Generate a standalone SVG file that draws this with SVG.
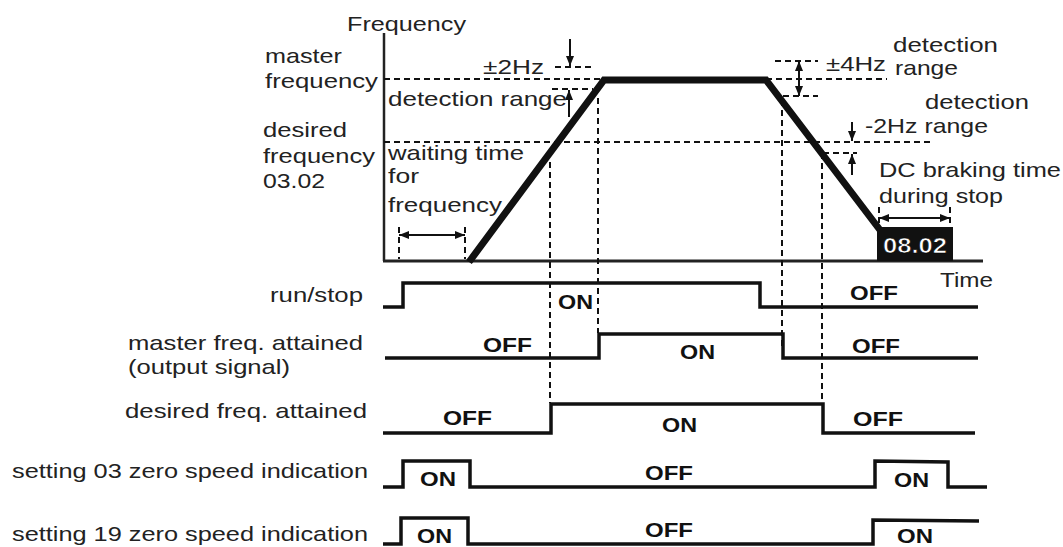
<svg xmlns="http://www.w3.org/2000/svg" width="1063" height="547" viewBox="0 0 1063 547">
<style>
text{font-family:"Liberation Sans",Arial,sans-serif;font-size:21px;fill:#222}
.b{font-weight:bold;fill:#111}
.w{font-weight:bold;font-size:22px;fill:#fff;stroke:#000;stroke-width:0.6}
.dash{stroke:#111;stroke-width:2;stroke-dasharray:6 4;fill:none}
.arr{stroke:#111;stroke-width:2;fill:none}
.sig{stroke:#111;stroke-width:3.5;fill:none;stroke-linejoin:miter}
.axis{stroke:#222;fill:none}
</style>
<defs>
<marker id="ah" viewBox="0 0 10 8" refX="10" refY="4" markerWidth="10" markerHeight="8" markerUnits="userSpaceOnUse" orient="auto-start-reverse">
<path d="M0,0 L10,4 L0,8 z" fill="#111"/>
</marker>
</defs>
<rect width="1063" height="547" fill="#fff"/>

<g id="axes">
<line class="axis" x1="384" y1="33" x2="384" y2="261" stroke-width="2.5"/>
<line class="axis" x1="383" y1="261" x2="983" y2="261" stroke-width="3"/>
<text x="347" y="31" textLength="119" lengthAdjust="spacingAndGlyphs">Frequency</text>
<text x="940" y="287" textLength="53" lengthAdjust="spacingAndGlyphs">Time</text>
</g>

<g id="guides">
<line class="dash" x1="384" y1="79" x2="603" y2="79"/>
<line class="dash" x1="766" y1="79" x2="887" y2="79"/>
<line class="dash" x1="384" y1="142" x2="933" y2="142"/>
<line class="dash" x1="555" y1="67" x2="593" y2="67"/>
<line class="dash" x1="552" y1="89" x2="593" y2="89"/>
<line class="dash" x1="775" y1="61" x2="818" y2="61"/>
<line class="dash" x1="783" y1="96" x2="818" y2="96"/>
<line class="dash" x1="823" y1="153" x2="857" y2="153"/>
<line class="dash" x1="399" y1="227" x2="399" y2="259"/>
<line class="dash" x1="465" y1="227" x2="465" y2="259"/>
<line class="dash" x1="550" y1="162" x2="550" y2="403"/>
<line class="dash" x1="598" y1="98" x2="598" y2="333"/>
<line class="dash" x1="782" y1="100" x2="782" y2="350"/>
<line class="dash" x1="822" y1="153" x2="822" y2="403"/>
<line class="dash" x1="879" y1="207" x2="879" y2="228"/>
<line class="dash" x1="950" y1="207" x2="950" y2="228"/>
</g>

<g id="frequency-curve">
<polyline points="469,262 604,80 766,80 880,230" fill="none" stroke="#111" stroke-width="7" stroke-linejoin="miter"/>
</g>

<g id="dc-braking">
<rect x="877" y="227" width="76" height="34" fill="#111"/>
<text class="w" x="883" y="253" textLength="64" lengthAdjust="spacingAndGlyphs">08.02</text>
</g>

<g id="connectors">
<line class="arr" x1="399" y1="235" x2="465" y2="235" marker-start="url(#ah)" marker-end="url(#ah)"/>
<line class="arr" x1="570" y1="39" x2="570" y2="66" marker-end="url(#ah)"/>
<line class="arr" x1="569" y1="117" x2="569" y2="90" marker-end="url(#ah)"/>
<line class="arr" x1="799" y1="61" x2="799" y2="96" marker-start="url(#ah)" marker-end="url(#ah)"/>
<line class="arr" x1="852" y1="122" x2="852" y2="141" marker-end="url(#ah)"/>
<line class="arr" x1="852" y1="175" x2="852" y2="154" marker-end="url(#ah)"/>
<line class="arr" x1="879" y1="218" x2="950" y2="218" marker-start="url(#ah)" marker-end="url(#ah)"/>
</g>

<g id="freq-labels">
<text x="265" y="63" textLength="77" lengthAdjust="spacingAndGlyphs">master</text>
<text x="265" y="88" textLength="113" lengthAdjust="spacingAndGlyphs">frequency</text>
<text x="263" y="137" textLength="84" lengthAdjust="spacingAndGlyphs">desired</text>
<text x="263" y="163" textLength="112" lengthAdjust="spacingAndGlyphs">frequency</text>
<text x="263" y="188" textLength="62" lengthAdjust="spacingAndGlyphs">03.02</text>
<text x="388" y="106" textLength="179" lengthAdjust="spacingAndGlyphs">detection range</text>
<text x="388" y="160" textLength="136" lengthAdjust="spacingAndGlyphs">waiting time</text>
<text x="388" y="183" textLength="31" lengthAdjust="spacingAndGlyphs">for</text>
<text x="388" y="212" textLength="114" lengthAdjust="spacingAndGlyphs">frequency</text>
<text x="483" y="74" textLength="61" lengthAdjust="spacingAndGlyphs">±2Hz</text>
<text x="826" y="71" textLength="60" lengthAdjust="spacingAndGlyphs">±4Hz</text>
<text x="893" y="52" textLength="105" lengthAdjust="spacingAndGlyphs">detection</text>
<text x="895" y="75" textLength="63" lengthAdjust="spacingAndGlyphs">range</text>
<text x="925" y="109" textLength="104" lengthAdjust="spacingAndGlyphs">detection</text>
<text x="865" y="133" textLength="123" lengthAdjust="spacingAndGlyphs">-2Hz range</text>
<text x="879" y="177" textLength="182" lengthAdjust="spacingAndGlyphs">DC braking time</text>
<text x="879" y="203" textLength="124" lengthAdjust="spacingAndGlyphs">during stop</text>
</g>

<g id="run-stop">
<text x="270" y="302" textLength="93" lengthAdjust="spacingAndGlyphs">run/stop</text>
<polyline class="sig" points="383,307 403,307 403,283 760,283 760,307 978,307"/>
<text class="b" x="558" y="309" textLength="35" lengthAdjust="spacingAndGlyphs">ON</text>
<text class="b" x="850" y="300" textLength="48" lengthAdjust="spacingAndGlyphs">OFF</text>
</g>

<g id="master-freq-attained">
<text x="128" y="350" textLength="235" lengthAdjust="spacingAndGlyphs">master freq. attained</text>
<text x="128" y="374" textLength="162" lengthAdjust="spacingAndGlyphs">(output signal)</text>
<polyline class="sig" points="385,358 599,358 599,334 783,334 783,358 978,358"/>
<text class="b" x="483" y="352" textLength="49" lengthAdjust="spacingAndGlyphs">OFF</text>
<text class="b" x="680" y="359" textLength="35" lengthAdjust="spacingAndGlyphs">ON</text>
<text class="b" x="852" y="353" textLength="48" lengthAdjust="spacingAndGlyphs">OFF</text>
</g>

<g id="desired-freq-attained">
<text x="125" y="418" textLength="242" lengthAdjust="spacingAndGlyphs">desired freq. attained</text>
<polyline class="sig" points="383,433 551,433 551,404 823,404 823,433 975,433"/>
<text class="b" x="443" y="425" textLength="49" lengthAdjust="spacingAndGlyphs">OFF</text>
<text class="b" x="662" y="432" textLength="35" lengthAdjust="spacingAndGlyphs">ON</text>
<text class="b" x="853" y="426" textLength="50" lengthAdjust="spacingAndGlyphs">OFF</text>
</g>

<g id="setting-03">
<text x="12" y="478" textLength="356" lengthAdjust="spacingAndGlyphs">setting 03 zero speed indication</text>
<polyline class="sig" points="383,487 403,487 403,461 470,461 470,487 875,487 875,461 948,462 948,487 987,487"/>
<text class="b" x="420" y="486" textLength="36" lengthAdjust="spacingAndGlyphs">ON</text>
<text class="b" x="645" y="480" textLength="48" lengthAdjust="spacingAndGlyphs">OFF</text>
<text class="b" x="894" y="487" textLength="35" lengthAdjust="spacingAndGlyphs">ON</text>
</g>

<g id="setting-19">
<text x="12" y="541" textLength="356" lengthAdjust="spacingAndGlyphs">setting 19 zero speed indication</text>
<polyline class="sig" points="383,544 401,544 401,518 468,518 468,544 873,544 873,520 979,521"/>
<text class="b" x="417" y="543" textLength="35" lengthAdjust="spacingAndGlyphs">ON</text>
<text class="b" x="645" y="537" textLength="48" lengthAdjust="spacingAndGlyphs">OFF</text>
<text class="b" x="897" y="543" textLength="36" lengthAdjust="spacingAndGlyphs">ON</text>
</g>
</svg>
